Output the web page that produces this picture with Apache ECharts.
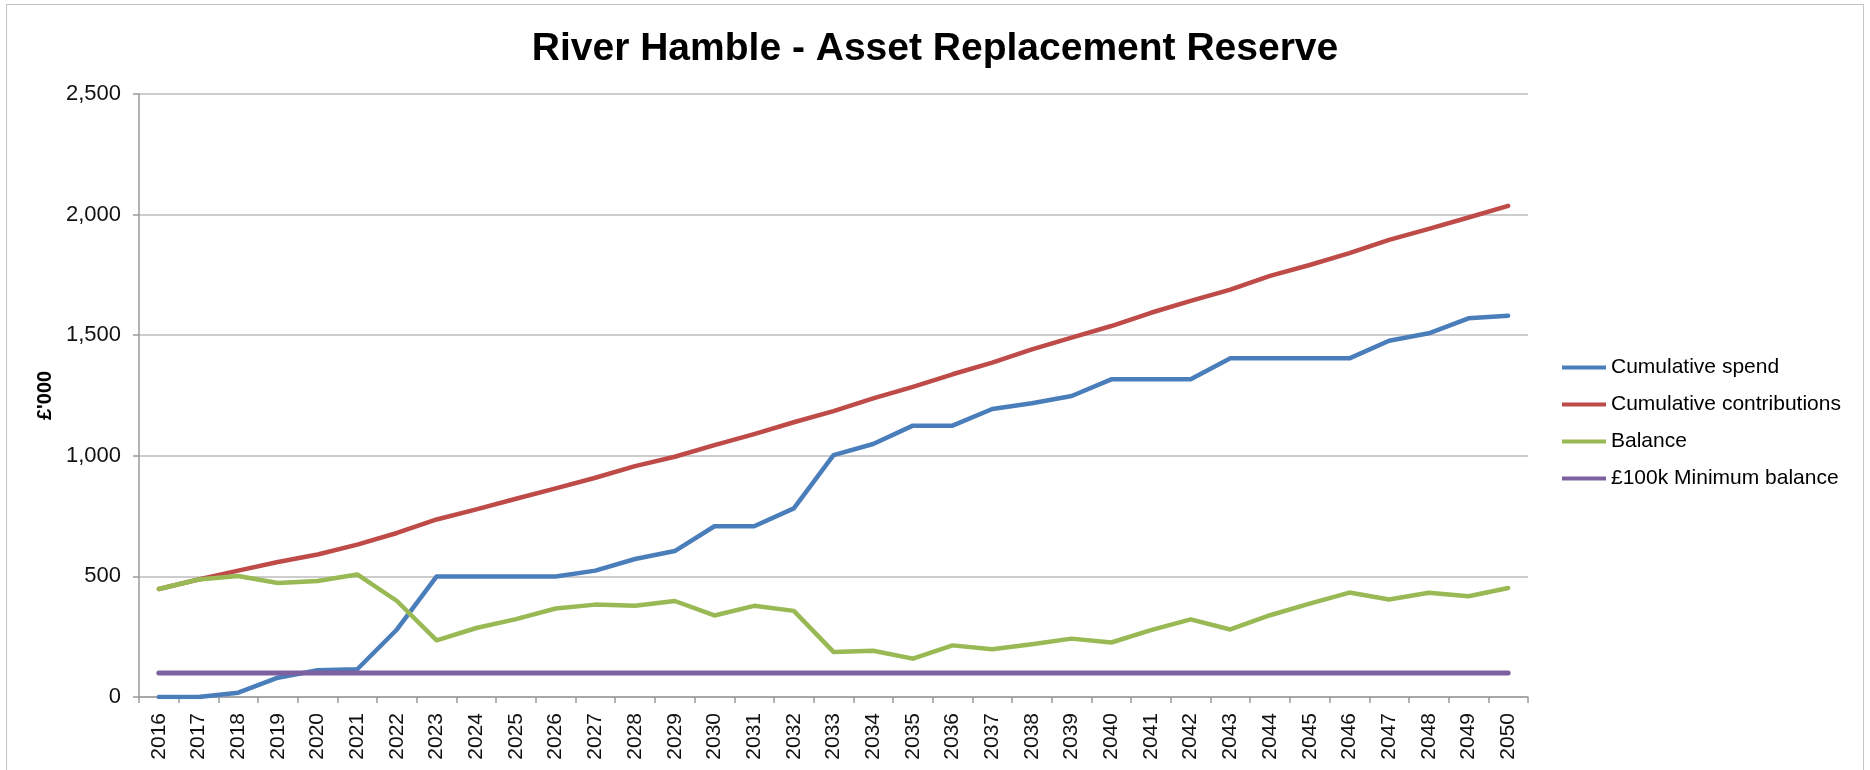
<!DOCTYPE html>
<html>
<head>
<meta charset="utf-8">
<script src="https://cdn.jsdelivr.net/npm/echarts@6/dist/echarts.min.js"></script>
<style>
  html, body { margin: 0; padding: 0; background: #ffffff; }
  #wrap { position: absolute; left: 0; top: 0; width: 1870px; height: 770px; overflow: hidden; background: #fff; }
  #frame { position: absolute; left: 6px; top: 4px; width: 1858px; height: 900px; border: 1.5px solid #c4c4c4; box-sizing: border-box; }
  #chart { position: absolute; left: 0; top: 0; width: 1870px; height: 770px; }
</style>
</head>
<body>
<div id="wrap">
  <div id="frame"></div>
  <div id="chart"></div>
</div>
<script>
// ---- Data (values in £'000) ----
const years = ['2016','2017','2018','2019','2020','2021','2022','2023','2024','2025',
               '2026','2027','2028','2029','2030','2031','2032','2033','2034','2035',
               '2036','2037','2038','2039','2040','2041','2042','2043','2044','2045',
               '2046','2047','2048','2049','2050'];

const cumulativeSpend = [0, 0, 18, 80, 111, 115, 280, 500, 500, 500,
                         500, 524, 572, 605, 708, 708, 782, 1003, 1049, 1125,
                         1125, 1194, 1218, 1248, 1317, 1317, 1317, 1404, 1404, 1404,
                         1404, 1477, 1508, 1570, 1581];

const cumulativeContributions = [448, 487, 524, 560, 591, 632, 680, 736, 778, 822,
                                 865, 909, 957, 996, 1044, 1090, 1139, 1185, 1238, 1286,
                                 1338, 1386, 1441, 1490, 1538, 1593, 1642, 1689, 1746, 1791,
                                 1840, 1895, 1941, 1988, 2036];

const balance = [448, 487, 502, 473, 481, 508, 398, 235, 286, 323,
                 367, 383, 378, 398, 338, 378, 357, 187, 192, 159,
                 214, 198, 219, 242, 226, 277, 322, 280, 339, 387,
                 433, 404, 432, 418, 452];

const minimumBalance = [100, 100, 100, 100, 100, 100, 100, 100, 100, 100,
                        100, 100, 100, 100, 100, 100, 100, 100, 100, 100,
                        100, 100, 100, 100, 100, 100, 100, 100, 100, 100,
                        100, 100, 100, 100, 100];

const seriesNames = ['Cumulative spend', 'Cumulative contributions', 'Balance', '£100k Minimum balance'];
const yTicks = { min: 0, max: 2500, interval: 500 };

// ---- Chart ----
const FONT = '"Liberation Sans", Arial, sans-serif';
const colors = ['#4A7EBB', '#BE4B48', '#98B954', '#7D60A0'];
const chart = echarts.init(document.getElementById('chart'), null, { renderer: 'canvas' });

function lineSeries(name, data, color, width) {
  return {
    name: name,
    type: 'line',
    data: data,
    symbol: 'none',
    showSymbol: false,
    smooth: false,
    animation: false,
    lineStyle: { color: color, width: width, cap: 'round', join: 'round' },
    itemStyle: { color: color },
    emphasis: { disabled: true }
  };
}

chart.setOption({
  animation: false,
  backgroundColor: 'transparent',
  title: {
    text: 'River Hamble - Asset Replacement Reserve',
    left: 'center',
    top: 25,
    textStyle: { fontFamily: FONT, fontSize: 39, fontWeight: 'bold', color: '#000' }
  },
  legend: {
    orient: 'vertical',
    left: 1557,
    top: 352,
    itemWidth: 44,
    itemHeight: 4,
    itemGap: 16,
    icon: 'rect',
    data: seriesNames,
    textStyle: { fontFamily: FONT, fontSize: 21, color: '#000' }
  },
  grid: { left: 139, right: 342, top: 94, bottom: 73, containLabel: false },
  xAxis: {
    type: 'category',
    data: years,
    boundaryGap: true,
    axisLine: { show: true, lineStyle: { color: '#9a9a9a', width: 1.5 } },
    axisTick: { show: true, alignWithLabel: false, length: 6, inside: false, lineStyle: { color: '#9a9a9a', width: 1.5 } },
    axisLabel: { interval: 0, rotate: 90, margin: 16, fontFamily: FONT, fontSize: 21, color: '#111' },
    splitLine: { show: false }
  },
  yAxis: {
    type: 'value',
    min: yTicks.min,
    max: yTicks.max,
    interval: yTicks.interval,
    name: "£'000",
    nameLocation: 'middle',
    nameGap: 77,
    nameRotate: 90,
    nameTextStyle: { fontFamily: FONT, fontSize: 20, fontWeight: 'bold', color: '#000' },
    axisLine: { show: true, lineStyle: { color: '#9a9a9a', width: 1.5 } },
    axisTick: { show: true, length: 6, inside: false, lineStyle: { color: '#9a9a9a', width: 1.5 } },
    axisLabel: {
      margin: 18,
      fontFamily: FONT,
      fontSize: 22,
      color: '#111',
      formatter: function (v) { return v.toLocaleString('en-US'); }
    },
    splitLine: { show: true, lineStyle: { color: '#bdbdbd', width: 1.5 } }
  },
  series: [
    lineSeries(seriesNames[0], cumulativeSpend, colors[0], 4.5),
    lineSeries(seriesNames[1], cumulativeContributions, colors[1], 4.5),
    lineSeries(seriesNames[2], balance, colors[2], 4.5),
    lineSeries(seriesNames[3], minimumBalance, colors[3], 5)
  ]
});
</script>
</body>
</html>
